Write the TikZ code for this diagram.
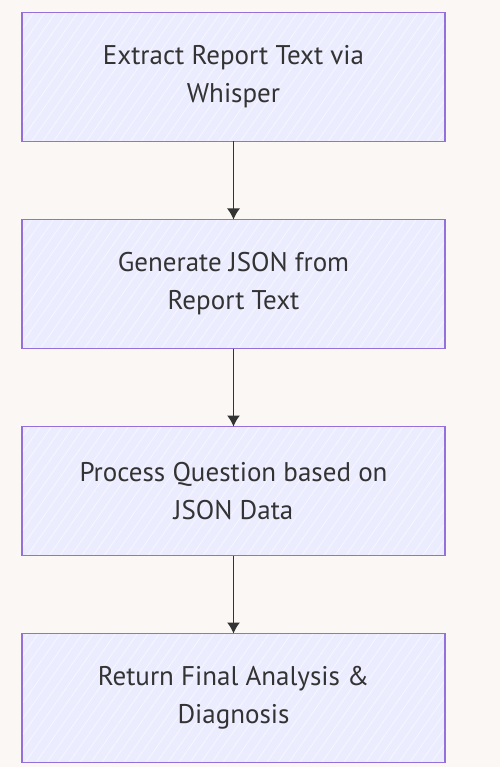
\documentclass[tikz,border=0pt]{standalone}
\usepackage{fontspec}
\setmainfont{PT Sans}
\usetikzlibrary{positioning, arrows.meta, patterns.meta}
\definecolor{paper}{HTML}{FAF7F5}
\definecolor{boxfill}{HTML}{ECECFF}
\definecolor{boxline}{HTML}{9370DB}
\definecolor{ink}{HTML}{333333}
\tikzstyle{stepbox} = [rectangle, minimum width=423pt, minimum height=129pt, outer sep=0pt, align=center, text=ink, font=\fontsize{27}{38}\selectfont, draw=boxline, line width=1.2pt, preaction={fill=boxfill}, pattern={Lines[angle=55, distance=9pt, line width=0.8pt]}, pattern color=white!60!boxfill]
\tikzstyle{arrow} = [ink, line width=1.3pt, -{Latex[length=11pt, width=13pt]}]

\begin{document}
\begin{tikzpicture}[x=1pt, y=1pt, node distance=78pt]
\fill[paper] (0,0) rectangle (500,-767);
\useasboundingbox (0,0) rectangle (500,-767);

\node (extract) [stepbox] at (233.5,-77) {Extract Report Text via\\Whisper};
\node (json) [stepbox, below=of extract] {Generate JSON from\\Report Text};
\node (question) [stepbox, below=of json] {Process Question based on\\JSON Data};
\node (final) [stepbox, below=of question] {Return Final Analysis \&\\Diagnosis};

\draw [arrow] (extract) -- (json);
\draw [arrow] (json) -- (question);
\draw [arrow] (question) -- (final);
\end{tikzpicture}
\end{document}
